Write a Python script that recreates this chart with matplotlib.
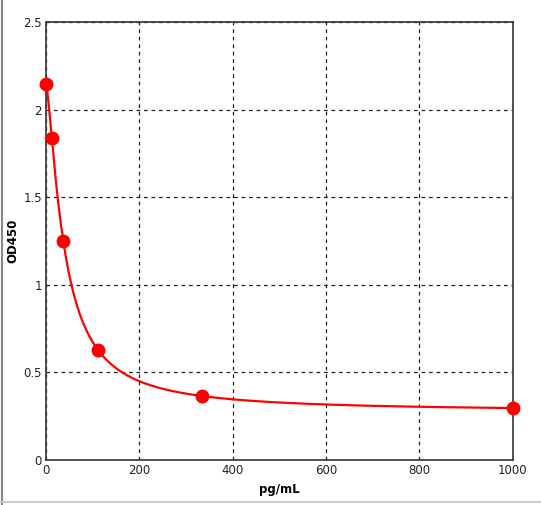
import numpy as np
import matplotlib.pyplot as plt
from matplotlib.lines import Line2D

# standard curve points
conc = [0, 12.35, 37.04, 111.1, 333.3, 1000]
od450 = [2.15, 1.84, 1.25, 0.63, 0.366, 0.297]

x_ticks = [0, 200, 400, 600, 800, 1000]
y_ticks = [0, 0.5, 1, 1.5, 2, 2.5]
y_tick_labels = ["0", "0.5", "1", "1.5", "2", "2.5"]


def four_pl(x, p):
    a, b, c, d = p
    return d + (a - d) / (1 + (np.abs(x) / c) ** b)


# simple Levenberg-Marquardt fit of a 4 parameter logistic curve
xd = np.array(conc, dtype=float)
yd = np.array(od450, dtype=float)
p = np.array([2.15, 1.4, 39.0, 0.27])
lam = 1e-3
for _ in range(200):
    r = yd - four_pl(xd, p)
    J = np.zeros((len(xd), 4))
    for k in range(4):
        dp = np.zeros(4)
        dp[k] = 1e-6 * max(abs(p[k]), 1)
        J[:, k] = (four_pl(xd, p + dp) - four_pl(xd, p)) / dp[k]
    A = J.T @ J
    step = np.linalg.solve(A + lam * np.diag(np.diag(A)), J.T @ r)
    p_new = p + step
    if p_new[2] > 0 and np.sum((yd - four_pl(xd, p_new)) ** 2) < np.sum(r ** 2):
        p = p_new
        lam *= 0.5
    else:
        lam *= 4

xs = np.linspace(0, 1000, 600)
ys = four_pl(xs, p)

fig = plt.figure(figsize=(5.41, 5.05), dpi=100)
ax = fig.add_axes([0.085, 0.089, 0.863, 0.867])

ax.plot(xs, ys, color="#ff0000", lw=1.6, zorder=3, clip_on=False)
ax.plot(conc, od450, "o", color="#ff0000", ms=9, zorder=4, clip_on=False)

ax.set_xlim(0, 1000)
ax.set_ylim(0, 2.5)
ax.set_xticks(x_ticks)
ax.set_yticks(y_ticks)
ax.set_yticklabels(y_tick_labels)
ax.tick_params(length=0, labelsize=8.5, pad=3, colors="#222222")
ax.grid(True, color="#222222", linestyle=(0, (3, 3)), linewidth=0.9)
ax.set_axisbelow(True)
for s in ax.spines.values():
    s.set_linewidth(1.2)
    s.set_color("#333333")

ax.set_xlabel("pg/mL", fontsize=8.5, fontweight="bold")
ax.set_ylabel("OD450", fontsize=8.5, fontweight="bold")
ax.xaxis.set_label_coords(0.5, -0.052)
ax.yaxis.set_label_coords(-0.058, 0.5)

# window frame lines
fig.add_artist(Line2D([0.004, 0.004], [0.0, 1.0], color="#888888", lw=1.5))
fig.add_artist(Line2D([0.0, 1.0], [0.006, 0.006], color="#cccccc", lw=1.5))

fig.savefig("out.png", dpi=100)
